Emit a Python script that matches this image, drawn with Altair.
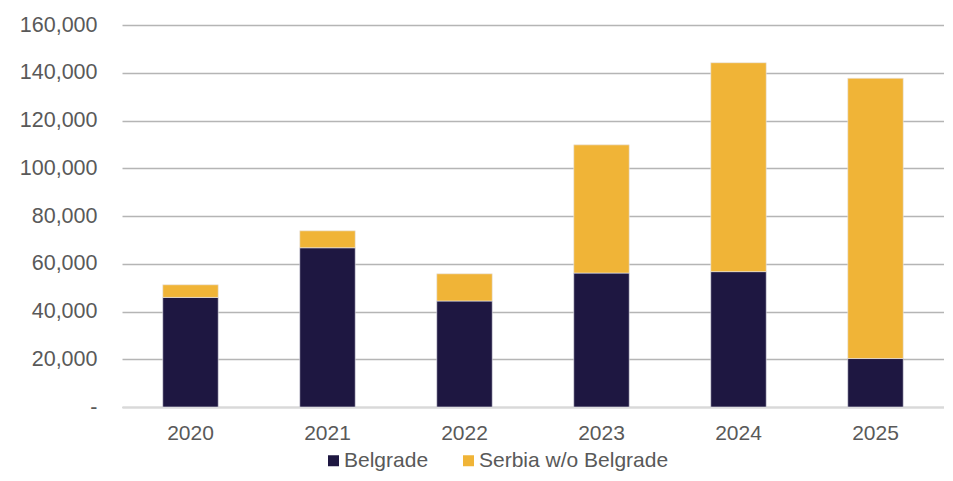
import altair as alt
import pandas as pd

years = ["2020", "2021", "2022", "2023", "2024", "2025"]
belgrade = [45900, 66700, 44400, 56100, 56700, 20300]
serbia_wo = [5300, 7100, 11400, 53700, 87500, 117400]
series = ["Belgrade", "Serbia w/o Belgrade"]
colors = ["#1e1741", "#f0b437"]

rows = []
for i, y in enumerate(years):
    rows.append({"year": y, "series": series[0], "value": belgrade[i], "order": 0})
    rows.append({"year": y, "series": series[1], "value": serbia_wo[i], "order": 1})
df = pd.DataFrame(rows)

FONT = "Liberation Sans"

chart = alt.Chart(df).mark_bar(stroke="#e8e8ee", strokeWidth=0.6).encode(
    x=alt.X("year:N", title=None, sort=years,
            scale=alt.Scale(paddingInner=0.595, paddingOuter=0.2975),
            axis=alt.Axis(labelAngle=0, labelFontSize=21, labelColor="#595959",
                          labelFont=FONT, ticks=False, domainColor="#d9d9d9",
                          domainWidth=2, labelPadding=15, grid=False)),
    y=alt.Y("value:Q", title=None, stack="zero",
            scale=alt.Scale(domain=[0, 160000], nice=False),
            axis=alt.Axis(values=[0, 20000, 40000, 60000, 80000, 100000, 120000, 140000, 160000],
                          labelExpr="datum.value == 0 ? '-' : format(datum.value, ',')",
                          labelFontSize=21.5, labelColor="#595959", labelFont=FONT,
                          ticks=False, domain=False, labelPadding=25,
                          gridColor="#b5b5b5", gridWidth=1.3)),
    color=alt.Color("series:N", sort=series,
                    scale=alt.Scale(domain=series, range=colors),
                    legend=alt.Legend(title=None, orient="none", direction="horizontal",
                                      legendX=201, legendY=425,
                                      symbolType="square", symbolSize=121,
                                      symbolStrokeWidth=0, labelFontSize=21,
                                      labelColor="#595959", labelFont=FONT,
                                      labelLimit=400,
                                      labelOffset=0, columnPadding=29)),
    order=alt.Order("order:Q"),
).properties(
    width=822, height=382,
    autosize=alt.AutoSizeParams(type="none"),
    padding={"left": 114, "top": 17, "right": 0, "bottom": 66},
).configure_view(stroke=None)

chart.save("out.html", embed_options={"renderer": "svg", "actions": False})
